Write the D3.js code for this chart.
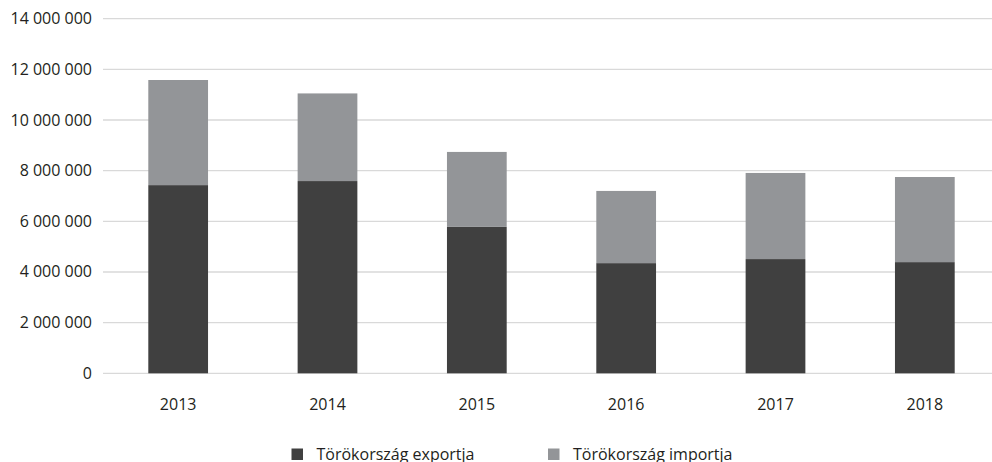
<!DOCTYPE html>
<html>
<head>
<meta charset="utf-8">
<script src="https://cdn.jsdelivr.net/npm/d3@7"></script>
<style>
  body { margin: 0; background: #fff; }
  text { font-family: "Open Sans", sans-serif; font-size: 16px; fill: #231f20; }
</style>
</head>
<body>
<svg id="chart" width="992" height="462"></svg>
<script>
// data
var years = ["2013", "2014", "2015", "2016", "2017", "2018"];
var exportVals = [7430000, 7590000, 5780000, 4350000, 4510000, 4390000];
var importVals = [4150000, 3460000, 2960000, 2850000, 3400000, 3360000];
var seriesNames = ["Törökország exportja", "Törökország importja"];
var seriesColors = ["#404040", "#939598"];
var yTicks = [0, 2000000, 4000000, 6000000, 8000000, 10000000, 12000000, 14000000];

var svg = d3.select("#chart");

var x = d3.scaleBand().domain(years)
    .range([103.5, 999.5])
    .paddingInner(0.6).paddingOuter(0.3);
var y = d3.scaleLinear().domain([0, 14000000]).range([373.3, 18.7]);

var fmt = function(v) { return d3.format(",")(v).replace(/,/g, "\u2009"); };
fmt = function(v) { return d3.format(",")(v).replace(/,/g, " "); };

// gridlines
svg.append("g").selectAll("line")
    .data(yTicks).join("line")
    .attr("x1", 103).attr("x2", 992)
    .attr("y1", d => y(d)).attr("y2", d => y(d))
    .attr("stroke", "#d9d9d9").attr("stroke-width", 1.3);

// y labels
svg.append("g").selectAll("text")
    .data(yTicks).join("text")
    .attr("x", 92).attr("y", d => y(d) + 5.5)
    .attr("text-anchor", "end")
    .text(fmt);

// stacked bars
var rows = years.map((yr, i) => ({year: yr, exp: exportVals[i], imp: importVals[i]}));
var stack = d3.stack().keys(["exp", "imp"])(rows);

svg.append("g").selectAll("g")
    .data(stack).join("g")
    .attr("fill", (d, i) => seriesColors[i])
  .selectAll("rect")
    .data(d => d).join("rect")
    .attr("x", d => x(d.data.year))
    .attr("width", x.bandwidth())
    .attr("y", d => y(d[1]))
    .attr("height", d => y(d[0]) - y(d[1]));

// x labels
svg.append("g").selectAll("text")
    .data(years).join("text")
    .attr("x", d => x(d) + x.bandwidth() / 2)
    .attr("y", 410)
    .attr("text-anchor", "middle")
    .text(d => d);

// legend
var legX = [291.5, 548];
var leg = svg.append("g").selectAll("g")
    .data(seriesNames).join("g")
    .attr("transform", (d, i) => "translate(" + legX[i] + ",0)");
leg.append("rect")
    .attr("x", 0).attr("y", 448.5)
    .attr("width", 11.5).attr("height", 11.5)
    .attr("fill", (d, i) => seriesColors[i]);
leg.append("text")
    .attr("x", 25).attr("y", 460)
    .text(d => d);
</script>
</body>
</html>
